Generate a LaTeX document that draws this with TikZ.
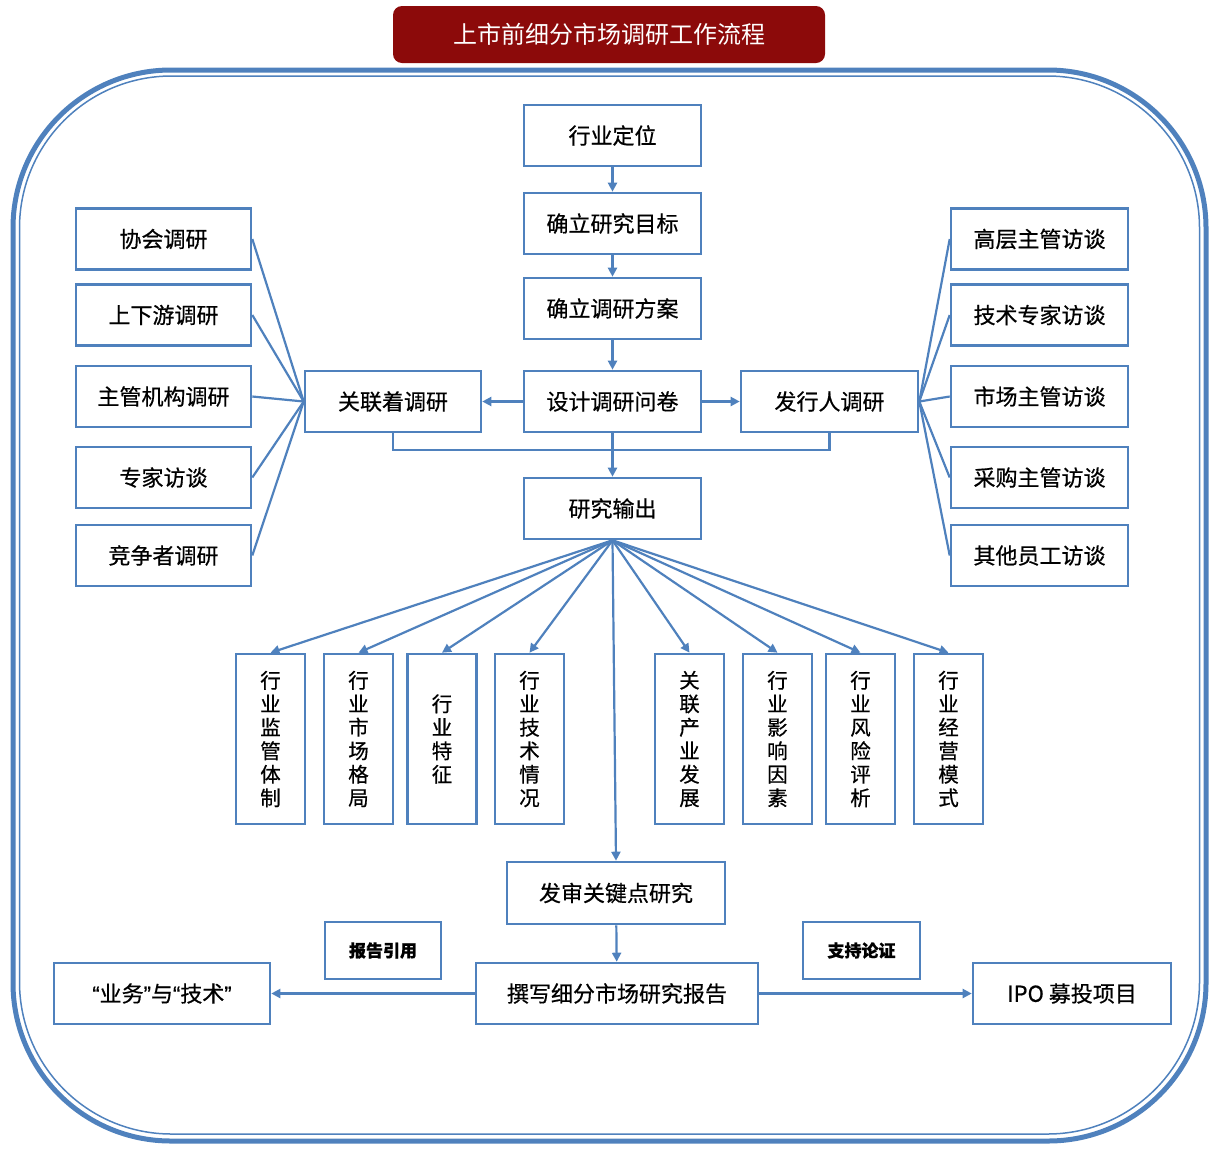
\documentclass[tikz,border=0pt]{standalone}
\usepackage{fontspec}
\setmainfont{Noto Sans CJK SC}
\newfontfamily\mf{Noto Sans CJK SC}[FakeBold=0.6]
\newfontfamily\qf{Liberation Sans}[FakeBold=0.6]
\usetikzlibrary{arrows.meta}
\definecolor{bl}{HTML}{4F81BD}
\definecolor{tr}{HTML}{8C0A0A}
\begin{document}
\begin{tikzpicture}[x=1pt,y=-1pt,
  box/.style={draw=bl, line width=2.6pt, inner sep=0pt, fill=white, font=\mf\fontsize{22}{24}\selectfont},
  hbox/.style={box, minimum width=177pt, minimum height=61pt},
  vbox/.style={box, minimum width=69pt, minimum height=170pt, align=center, font=\mf\fontsize{20.5}{23.5}\selectfont},
  sbox/.style={box, minimum width=116pt, minimum height=57pt, font=\mf\fontsize{17}{20}\selectfont\bfseries},
  conn/.style={draw=bl, line width=2.2pt},
  arr/.style={conn, -{Triangle[length=9pt,width=9pt]}}]
\useasboundingbox (0,0) rectangle (1217,1149);
% frame
\draw[bl, line width=5pt, rounded corners=158pt] (13,70) rectangle (1206,1141);
\draw[bl, line width=1.5pt, rounded corners=152pt] (19.5,76) rectangle (1199.5,1134);
% title
\node[fill=tr, rounded corners=9pt, minimum width=432pt, minimum height=57pt, inner sep=0pt, text=white, font=\fontsize{24}{28}\selectfont] (title) at (609,34.5) {上市前细分市场调研工作流程};
% central column
\node[hbox] (hydw) at (612.5,135.5) {行业定位};
\node[hbox] (qdmb) at (612.5,223.5) {确立研究目标};
\node[hbox] (qdfa) at (612.5,308.5) {确立调研方案};
\node[hbox] (sjwj) at (612.5,401.5) {设计调研问卷};
\node[hbox] (yjsc) at (612.5,508.5) {研究输出};
\node[hbox, minimum width=176pt] (glz) at (393,401.5) {关联着调研};
\node[hbox] (fxr) at (829.5,401.5) {发行人调研};
% left column
\node[hbox, minimum width=175pt] (l1) at (163.5,239) {协会调研};
\node[hbox, minimum width=175pt] (l2) at (163.5,315) {上下游调研};
\node[hbox, minimum width=175pt] (l3) at (163.5,396.5) {主管机构调研};
\node[hbox, minimum width=175pt] (l4) at (163.5,477.5) {专家访谈};
\node[hbox, minimum width=175pt] (l5) at (163.5,555.5) {竞争者调研};
% right column
\node[hbox] (r1) at (1039.5,239) {高层主管访谈};
\node[hbox] (r2) at (1039.5,315) {技术专家访谈};
\node[hbox] (r3) at (1039.5,396.5) {市场主管访谈};
\node[hbox] (r4) at (1039.5,477.5) {采购主管访谈};
\node[hbox] (r5) at (1039.5,555.5) {其他员工访谈};
% vertical boxes
\node[vbox] (v1) at (270.5,739) {行\\业\\监\\管\\体\\制};
\node[vbox] (v2) at (358.5,739) {行\\业\\市\\场\\格\\局};
\node[vbox] (v3) at (442,739) {行\\业\\特\\征};
\node[vbox] (v4) at (529.5,739) {行\\业\\技\\术\\情\\况};
\node[vbox] (v5) at (689.5,739) {关\\联\\产\\业\\发\\展};
\node[vbox] (v6) at (777.5,739) {行\\业\\影\\响\\因\\素};
\node[vbox] (v7) at (860.5,739) {行\\业\\风\\险\\评\\析};
\node[vbox] (v8) at (948.5,739) {行\\业\\经\\营\\模\\式};
% bottom
\node[hbox, minimum width=218pt, minimum height=62pt] (fsgj) at (616,893) {发审关键点研究};
\node[hbox, minimum width=282pt] (zxbg) at (617,993.5) {撰写细分市场研究报告};
\node[hbox, minimum width=216pt] (ywjs) at (162,993.5) {{\qf“}业务{\qf”}与{\qf“}技术{\qf”}};
\node[hbox, minimum width=198pt] (ipo) at (1072,993.5) {IPO 募投项目};
\node[sbox] (bgyy) at (383,950.5) {报告引用};
\node[sbox, minimum width=117pt] (zclz) at (861.5,950.5) {支持论证};
% connectors
\draw[arr] (hydw) -- (qdmb);
\draw[arr] (qdmb) -- (qdfa);
\draw[arr] (qdfa) -- (sjwj);
\draw[arr] (sjwj) -- (glz);
\draw[arr] (sjwj) -- (fxr);
\draw[conn] (glz.south) -- ++(0,17) -| (fxr.south);
\draw[arr] (sjwj) -- (yjsc);
\foreach \n in {l1,l2,l3,l4,l5} \draw[conn] (\n.east) -- (glz.west);
\foreach \n in {r1,r2,r3,r4,r5} \draw[conn] (fxr.east) -- (\n.west);
\foreach \n in {v1,v2,v3,v4,v5,v6,v7,v8} \draw[arr] (yjsc.south) -- (\n.north);
\draw[arr] (yjsc.south) -- (fsgj.north);
\draw[arr] (fsgj) -- (zxbg);
\draw[arr] (zxbg) -- (ywjs);
\draw[arr] (zxbg) -- (ipo);
\end{tikzpicture}
\end{document}
